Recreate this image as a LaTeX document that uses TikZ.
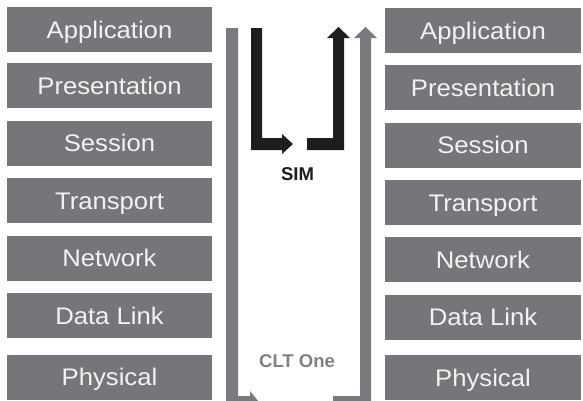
\documentclass[tikz,border=0pt]{standalone}
\usepackage{fontspec}
\setmainfont{Liberation Sans}
\newfontfamily\layerfont[FakeStretch=1.07]{Liberation Sans}
\definecolor{layergray}{RGB}{118,118,122}
\definecolor{flowgray}{RGB}{122,122,126}
\definecolor{flowblack}{RGB}{30,30,30}
\definecolor{labelgray}{RGB}{128,128,132}
\definecolor{layertext}{RGB}{242,242,242}
\tikzset{
  layer/.style={fill=layergray, inner sep=0pt, minimum height=45pt,
    text=layertext, font=\layerfont\fontsize{24}{24}\selectfont,
    text height=17.2pt, text depth=0pt},
  leftlayer/.style={layer, minimum width=205pt},
  rightlayer/.style={layer, minimum width=196pt},
  tag/.style={font=\bfseries\fontsize{18.5}{18.5}\selectfont, inner sep=0pt}
}
\begin{document}
\begin{tikzpicture}[x=1pt, y=-1pt]
  \useasboundingbox (0,0) rectangle (583,400);
  \clip (0,0) rectangle (583,400);
  \fill[white] (0,0) rectangle (583,400);

  % sending stack
  \node[leftlayer] (la) at (109.5, 29.5) {Application};
  \node[leftlayer] (lp) at (109.5, 85.5) {Presentation};
  \node[leftlayer] (ls) at (109.5,143.0) {Session};
  \node[leftlayer] (lt) at (109.5,200.5) {Transport};
  \node[leftlayer] (ln) at (109.5,258.0) {Network};
  \node[leftlayer] (ld) at (109.5,315.5) {Data Link};
  \node[leftlayer] (lh) at (109.5,377.0) {Physical};

  % receiving stack
  \node[rightlayer] (ra) at (483, 30.5) {Application};
  \node[rightlayer] (rp) at (483, 87.5) {Presentation};
  \node[rightlayer] (rs) at (483,145.0) {Session};
  \node[rightlayer] (rt) at (483,202.5) {Transport};
  \node[rightlayer] (rn) at (483,259.5) {Network};
  \node[rightlayer] (rd) at (483,317.0) {Data Link};
  \node[rightlayer] (rh) at (483,377.5) {Physical};

  % full-stack path (grey): down the left, along the bottom, up the right
  \fill[flowgray] (226,28) -- (238,28) -- (238,396) -- (250,396) -- (250,391)
    -- (259,402) -- (250,413) -- (250,408) -- (226,408) -- cycle;
  \fill[flowgray] (333,396) -- (360,396) -- (360,38) -- (354,38) -- (365.5,27)
    -- (377,38) -- (371,38) -- (371,408) -- (333,408) -- cycle;

  % shortcut path (black): down to SIM and back up
  \fill[flowblack] (251,28) -- (262,28) -- (262,138) -- (282,138) -- (282,134)
    -- (293,144) -- (282,154) -- (282,150) -- (251,150) -- cycle;
  \fill[flowblack] (307,138) -- (333,138) -- (333,38) -- (327,38) -- (338.5,27)
    -- (350,38) -- (344,38) -- (344,150) -- (307,150) -- cycle;

  \node[tag, text=flowblack] (sim) at (297.5,174.5) {SIM};
  \node[tag, text=labelgray] (clt) at (297,361.5) {CLT One};
\end{tikzpicture}
\end{document}
